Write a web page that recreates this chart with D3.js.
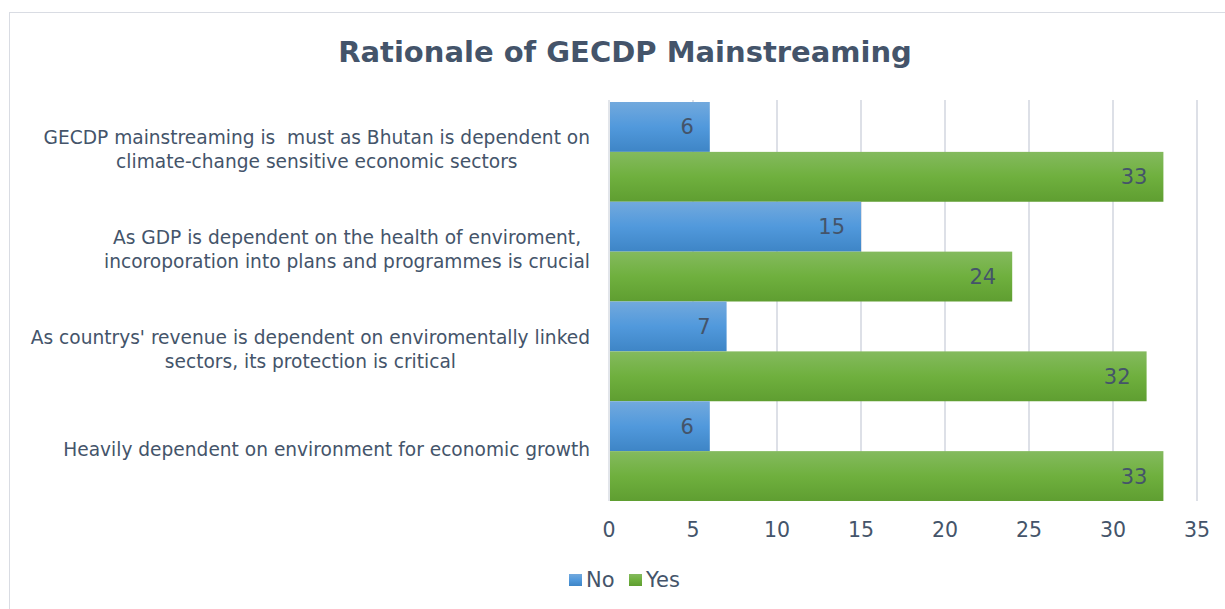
<!DOCTYPE html>
<html>
<head>
<meta charset="utf-8">
<script src="https://cdn.jsdelivr.net/npm/d3@7"></script>
<style>
  html, body { margin: 0; padding: 0; background: #fff; }
  svg { display: block; }
  text { font-family: "DejaVu Sans", Verdana, sans-serif; white-space: pre; }
</style>
</head>
<body>
<svg id="chart" width="1225" height="609"></svg>
<script>
// Survey responses: categories top to bottom, with counts for each answer
const categories = [
  ["GECDP mainstreaming is  must as Bhutan is dependent on", "climate-change sensitive economic sectors"],
  ["As GDP is dependent on the health of enviroment,", "incoroporation into plans and programmes is crucial"],
  ["As countrys' revenue is dependent on enviromentally linked", "sectors, its protection is critical"],
  ["Heavily dependent on environment for economic growth"]
];
const seriesNames = ["No", "Yes"];
const noValues = [6, 15, 7, 6];
const yesValues = [33, 24, 32, 33];
const xTicks = [0, 5, 10, 15, 20, 25, 30, 35];
const title = "Rationale of GECDP Mainstreaming";

const textColor = "#44546a";
const svg = d3.select("#chart");

// chart frame
svg.append("rect")
  .attr("x", 9.5).attr("y", 12.5)
  .attr("width", 1240).attr("height", 620)
  .attr("fill", "#fff").attr("stroke", "#d9dce3").attr("stroke-width", 1);

const defs = svg.append("defs");
function gradient(id, top, mid, bottom) {
  const g = defs.append("linearGradient").attr("id", id)
    .attr("x1", 0).attr("y1", 0).attr("x2", 0).attr("y2", 1);
  g.append("stop").attr("offset", "0%").attr("stop-color", top);
  g.append("stop").attr("offset", "50%").attr("stop-color", mid);
  g.append("stop").attr("offset", "100%").attr("stop-color", bottom);
}
gradient("gradNo", "#72a9dd", "#5199dc", "#3e85c6");
gradient("gradYes", "#84ba5e", "#6fb03e", "#5f9e31");
const fills = ["url(#gradNo)", "url(#gradYes)"];

const plot = { left: 609, right: 1197, top: 102, bottom: 501 };

const x = d3.scaleLinear().domain([0, 35]).range([plot.left, plot.right]);
const y = d3.scaleBand().domain(d3.range(categories.length))
  .range([plot.top, plot.bottom]).paddingInner(0).paddingOuter(0);
const ySub = d3.scaleBand().domain([0, 1]).range([0, y.bandwidth()]).padding(0);

// title
svg.append("text")
  .attr("x", 625).attr("y", 62)
  .attr("text-anchor", "middle")
  .attr("font-size", 29).attr("font-weight", "bold")
  .attr("fill", textColor)
  .text(title);

// vertical gridlines
svg.append("g").selectAll("line")
  .data(xTicks.slice(1))
  .join("line")
  .attr("x1", d => x(d)).attr("x2", d => x(d))
  .attr("y1", plot.top - 2).attr("y2", plot.bottom)
  .attr("stroke", "#dde0e7").attr("stroke-width", 2);

// category axis line
svg.append("line")
  .attr("x1", x(0)).attr("x2", x(0))
  .attr("y1", plot.top - 2).attr("y2", plot.bottom)
  .attr("stroke", "#d9dce3").attr("stroke-width", 1.5);

// bars
const groups = svg.append("g").selectAll("g")
  .data(categories.map((c, i) => ({ i, vals: [noValues[i], yesValues[i]] })))
  .join("g")
  .attr("transform", d => `translate(0,${y(d.i)})`);

groups.selectAll("rect")
  .data(d => d.vals.map((v, s) => ({ v, s })))
  .join("rect")
  .attr("x", x(0) + 1)
  .attr("y", d => ySub(d.s))
  .attr("width", d => x(d.v) - x(0) - 1)
  .attr("height", ySub.bandwidth())
  .attr("fill", d => fills[d.s]);

groups.selectAll("text.val")
  .data(d => d.vals.map((v, s) => ({ v, s })))
  .join("text")
  .attr("class", "val")
  .attr("x", d => x(d.v) - 16)
  .attr("y", d => ySub(d.s) + ySub.bandwidth() / 2)
  .attr("dy", "0.36em")
  .attr("text-anchor", "end")
  .attr("font-size", 21)
  .attr("fill", textColor)
  .text(d => d.v);

// category labels: centred lines, block right-aligned to the axis
const labelRight = 590;
const lineH = 24;
const labels = svg.append("g");
categories.forEach((lines, i) => {
  const cy = y(i) + y.bandwidth() / 2;
  const g = labels.append("g");
  const t = g.selectAll("text").data(lines).join("text")
    .attr("font-size", 18.6)
    .attr("fill", textColor)
    .attr("text-anchor", "middle")
    .attr("dy", "0.35em")
    .text(d => d);
  const widths = t.nodes().map(n => n.getComputedTextLength());
  const maxW = d3.max(widths);
  const n = lines.length;
  t.attr("x", labelRight - maxW / 2)
   .attr("y", (d, k) => cy + (k - (n - 1) / 2) * lineH - 2);
});

// value axis tick labels
svg.append("g").selectAll("text")
  .data(xTicks)
  .join("text")
  .attr("x", d => x(d))
  .attr("y", 530)
  .attr("dy", "0.35em")
  .attr("text-anchor", "middle")
  .attr("font-size", 20.5)
  .attr("fill", textColor)
  .text(d => d);

// legend
const legend = svg.append("g");
const legendItems = [{ name: seriesNames[0], x: 569 }, { name: seriesNames[1], x: 629 }];
legendItems.forEach((it, s) => {
  legend.append("rect")
    .attr("x", it.x).attr("y", 574)
    .attr("width", 13).attr("height", 12)
    .attr("fill", fills[s]);
  legend.append("text")
    .attr("x", it.x + 17).attr("y", 579)
    .attr("dy", "0.36em")
    .attr("font-size", 21)
    .attr("fill", textColor)
    .text(it.name);
});
</script>
</body>
</html>
